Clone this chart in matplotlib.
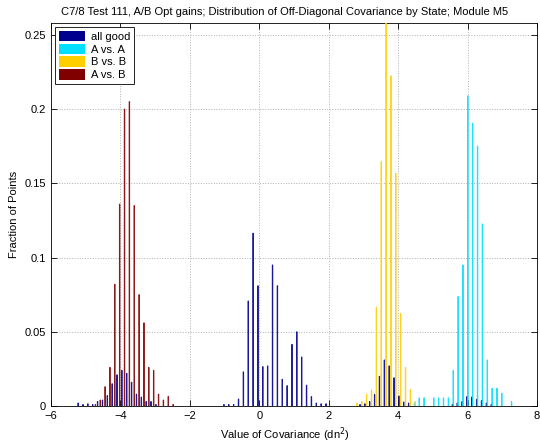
import numpy as np
import matplotlib
matplotlib.use("Agg")
import matplotlib.pyplot as plt
from matplotlib.patches import Patch

plt.rcParams['font.family'] = ['Liberation Sans', 'DejaVu Sans']

title = "C7/8 Test 111, A/B Opt gains; Distribution of Off-Diagonal Covariance by State; Module M5"
series_names = ["all good", "A vs. A", "B vs. B", "A vs. B"]
series_colors = [(0, 0, 0.5625), (0, 0.875, 1.0), (1.0, 0.8125, 0), (0.5, 0, 0)]

bin_step = 0.14

good_x = [-5.18, -5.04, -4.90, -4.76, -4.62, -4.48, -4.34, -4.20, -4.06, -3.92, -3.78, -3.64, -3.50,
          -3.36, -3.22, -3.08, -2.94,
          -0.98, -0.84, -0.70, -0.56, -0.42, -0.28, -0.14, 0.00, 0.14, 0.28, 0.42, 0.56, 0.70, 0.84,
          0.98, 1.12, 1.26, 1.40, 1.54, 1.68, 1.82, 1.96,
          2.94, 3.08, 3.22, 3.36, 3.50, 3.64, 3.78, 3.92, 4.06, 4.20, 4.34,
          5.60, 5.74, 5.88, 6.02, 6.16, 6.30, 6.44, 6.58, 6.72]
good_y = [0.002, 0.001, 0.0015, 0.001, 0.003, 0.004, 0.007, 0.015, 0.021, 0.024, 0.022, 0.016, 0.008,
          0.006, 0.003, 0.003, 0.001,
          0.001, 0.001, 0.001, 0.0047, 0.023, 0.0707, 0.1164, 0.081, 0.0265, 0.027, 0.095, 0.081, 0.018, 0.0137,
          0.0415, 0.050, 0.033, 0.014, 0.0063, 0.002, 0.0015, 0.0015,
          0.001, 0.0015, 0.003, 0.0077, 0.020, 0.031, 0.027, 0.019, 0.0067, 0.0027, 0.002,
          0.001, 0.002, 0.003, 0.0063, 0.006, 0.0045, 0.0036, 0.002, 0.001]

aa_x = [4.48, 4.62, 4.76, 5.04, 5.18, 5.32, 5.46, 5.60, 5.74, 5.88, 6.02, 6.16, 6.30, 6.44, 6.58,
        6.72, 6.86, 7.00, 7.28]
aa_y = [0.002, 0.0055, 0.0055, 0.0055, 0.0055, 0.0055, 0.0055, 0.024, 0.0737, 0.095, 0.209, 0.1905, 0.175,
        0.1226, 0.031, 0.012, 0.012, 0.0085, 0.003]

bb_x = [2.80, 2.94, 3.08, 3.22, 3.36, 3.50, 3.64, 3.78, 3.92, 4.06, 4.20, 4.34, 4.48]
bb_y = [0.002, 0.003, 0.008, 0.0108, 0.0665, 0.1646, 0.264, 0.2224, 0.1568, 0.0624, 0.026, 0.011, 0.003]

ab_x = [-4.76, -4.62, -4.48, -4.34, -4.20, -4.06, -3.92, -3.78, -3.64, -3.50, -3.36, -3.22, -3.08,
        -2.94, -2.80, -2.66, -2.52]
ab_y = [0.001, 0.004, 0.013, 0.026, 0.082, 0.136, 0.200, 0.205, 0.135, 0.075, 0.056, 0.026, 0.024,
        0.008, 0.004, 0.0065, 0.001]

series_x = [good_x, aa_x, bb_x, ab_x]
series_y = [good_y, aa_y, bb_y, ab_y]

fig = plt.figure(figsize=(5.4, 4.48), dpi=100)
ax = fig.add_axes([51 / 540, 42 / 448, 486 / 540, 383 / 448])

n = 4
group_w = bin_step * min(0.8, n / (n + 1.5))
slot = group_w / n
bar_w = 0.012
for i in range(n):
    off = (i - (n - 1) / 2) * slot
    xs = np.array(series_x[i]) + off
    ax.bar(xs, series_y[i], width=bar_w, color=series_colors[i], edgecolor=series_colors[i],
           linewidth=0.75, alpha=0.85, snap=False, label=series_names[i], zorder=3)

ax.set_xlim(-6, 8)
ax.set_ylim(0, 0.258)
ax.set_xticks(np.arange(-6, 9, 2))
ax.set_yticks([0, 0.05, 0.1, 0.15, 0.2, 0.25])
ax.set_yticklabels(["0", "0.05", "0.1", "0.15", "0.2", "0.25"])
ax.tick_params(direction='in', top=True, right=True, labelsize=8, length=4, width=0.6)
ax.grid(True, linestyle=':', color='#b0b0b0', linewidth=0.7, zorder=0)
for s in ax.spines.values():
    s.set_linewidth(0.6)

ax.set_title(title, fontsize=8, pad=6, x=0.481)
ax.set_xlabel("Value of Covariance (dn$^2$)", fontsize=8, labelpad=3, x=0.481)
ax.set_ylabel("Fraction of Points", fontsize=8, labelpad=4)

handles = [Patch(facecolor=c, edgecolor='none') for c in series_colors]
leg = ax.legend(handles, series_names, loc='upper left', fontsize=8, frameon=True, fancybox=False,
                edgecolor='black', framealpha=1, handlelength=2.4, handleheight=1.1,
                borderaxespad=0.4, labelspacing=0.15, handletextpad=0.5, borderpad=0.3)
leg.get_frame().set_linewidth(0.6)

fig.savefig("out.png", dpi=100)
